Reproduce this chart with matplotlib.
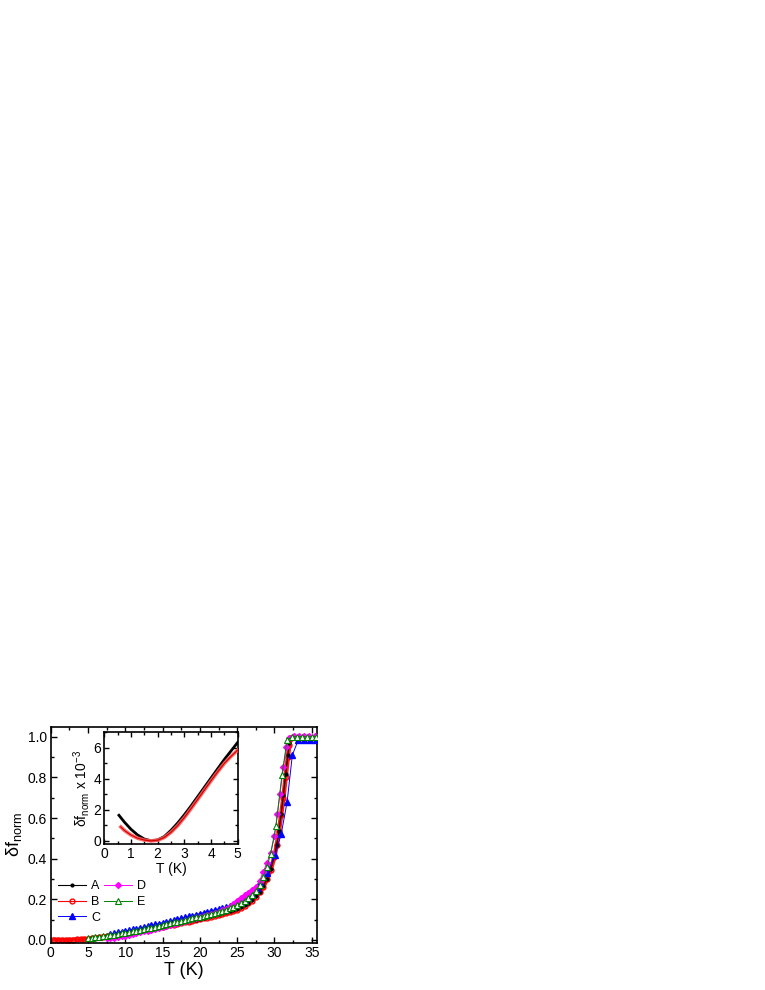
import matplotlib
matplotlib.use('Agg')
import matplotlib.pyplot as plt
from matplotlib.ticker import MultipleLocator, FormatStrFormatter

plt.rcParams['font.family'] = ['Liberation Sans', 'DejaVu Sans']
plt.rcParams['mathtext.fontset'] = 'custom'
plt.rcParams['mathtext.rm'] = 'Liberation Sans'
plt.rcParams['mathtext.it'] = 'Liberation Sans:italic'
plt.rcParams['mathtext.default'] = 'regular'

# ---------------- main panel data ----------------
T_A = [5, 5.5, 6, 6.5, 7, 7.5, 8, 8.5, 9, 9.5, 10, 10.5, 11, 11.5, 12, 12.5, 13, 13.5,
       14, 14.5, 15, 15.5, 16, 16.5, 17, 17.5, 18, 18.5, 19, 19.5, 20, 20.5, 21, 21.5,
       22, 22.5, 23, 23.5, 24, 24.5, 25, 25.5, 26, 26.5, 27, 27.5, 28, 28.5, 29, 29.5,
       30, 30.3, 30.6, 30.9, 31.2, 31.5, 31.8, 32.0, 32.2, 32.5]
y_A = [0.0063, 0.0088, 0.0113, 0.0139, 0.0166, 0.0193, 0.0221, 0.0249, 0.0278, 0.0307,
       0.0337, 0.0368, 0.0399, 0.0431, 0.0463, 0.0495, 0.0528, 0.0561, 0.0594, 0.0628,
       0.0662, 0.0698, 0.0734, 0.0771, 0.0808, 0.0846, 0.0884, 0.0922, 0.0961, 0.1001,
       0.1041, 0.1082, 0.1124, 0.1167, 0.1211, 0.1256, 0.1303, 0.1352, 0.1404, 0.1460,
       0.1522, 0.1600, 0.1700, 0.1820, 0.1960, 0.2140, 0.2360, 0.2640, 0.3000, 0.3480,
       0.4150, 0.4650, 0.5350, 0.6200, 0.7150, 0.8150, 0.9100, 0.9680, 0.9960, 1.0000]

T_B = [0.5, 1, 1.5, 2, 2.5, 3, 3.5, 4, 4.5, 5, 5.5, 6, 6.5, 7, 7.5, 8, 8.5, 9, 9.5,
       10, 10.5, 11, 11.5, 12, 12.5, 13, 13.5, 14, 14.5, 15, 15.5, 16, 16.5, 17, 17.5,
       18, 18.5, 19, 19.5, 20, 20.5, 21, 21.5, 22, 22.5, 23, 23.5, 24, 24.5, 25, 25.5,
       26, 26.5, 27, 27.5, 28, 28.5, 29, 29.5, 30, 30.3, 30.6, 30.9, 31.2, 31.5, 31.8,
       32.0, 32.2, 32.5]
y_B = [0.0016, 0.0007, 0.0002, 0.0000, 0.0004, 0.0014, 0.0026, 0.0038, 0.0049, 0.0058,
       0.0085, 0.0110, 0.0136, 0.0162, 0.0189, 0.0216, 0.0243, 0.0271, 0.0300, 0.0330,
       0.0361, 0.0392, 0.0423, 0.0455, 0.0487, 0.0519, 0.0551, 0.0584, 0.0617, 0.0650,
       0.0686, 0.0722, 0.0758, 0.0795, 0.0832, 0.0869, 0.0906, 0.0944, 0.0983, 0.1022,
       0.1062, 0.1103, 0.1145, 0.1188, 0.1232, 0.1278, 0.1326, 0.1376, 0.1430, 0.1490,
       0.1580, 0.1680, 0.1800, 0.1940, 0.2120, 0.2340, 0.2620, 0.2980, 0.3450, 0.4100,
       0.4650, 0.5350, 0.6150, 0.7000, 0.8000, 0.9000, 0.9600, 0.9950, 1.0000]

T_C = [8, 8.5, 9, 9.5, 10, 10.5, 11, 11.5, 12, 12.5, 13, 13.5,
       14, 14.5, 15, 15.5, 16, 16.5, 17, 17.5, 18, 18.5, 19, 19.5, 20, 20.5, 21, 21.5,
       22, 22.5, 23, 23.5, 24, 24.5, 25, 25.5, 26, 26.5, 27, 27.6, 28.1, 29.0, 30.1,
       30.9, 31.7, 32.4, 33.2, 34.0, 34.8, 35.6]
y_C = [0.0300, 0.0335, 0.0370, 0.0405,
       0.0440, 0.0480, 0.0520, 0.0560, 0.0600, 0.0640, 0.0685, 0.0725, 0.0765, 0.0808,
       0.0850, 0.0893, 0.0936, 0.0980, 0.1024, 0.1068, 0.1112, 0.1156, 0.1200, 0.1250,
       0.1300, 0.1345, 0.1390, 0.1435, 0.1480, 0.1525, 0.1570, 0.1620, 0.1675, 0.1740,
       0.1810, 0.1890, 0.1980, 0.2100, 0.2280, 0.2550, 0.2850, 0.3300, 0.4200, 0.5200,
       0.6800, 0.9100, 0.9850, 0.9850, 0.9850, 0.9850]

T_D = [7.5, 8, 8.5, 9, 9.5, 10, 10.5, 11, 11.5, 12, 12.5, 13, 13.5, 14, 14.5, 15, 15.5,
       16, 16.5, 17, 17.5, 18, 18.5, 19, 19.5, 20, 20.5, 21, 21.5, 22, 22.5, 23, 23.5,
       24, 24.5, 25, 25.5, 26, 26.5, 27, 27.5, 28, 28.5, 29, 29.5, 30.0, 30.4, 30.75,
       31.2, 31.6, 32.0, 32.6, 33.3, 34.0, 34.7, 35.4]
y_D = [0.0080, 0.0095, 0.0110, 0.0135, 0.0170, 0.0210, 0.0250, 0.0290, 0.0330, 0.0370,
       0.0415, 0.0460, 0.0505, 0.0550, 0.0600, 0.0650, 0.0695, 0.0740, 0.0785, 0.0830,
       0.0875, 0.0920, 0.0970, 0.1020, 0.1070, 0.1120, 0.1170, 0.1220, 0.1275, 0.1330,
       0.1390, 0.1460, 0.1540, 0.1630, 0.1750, 0.1910, 0.2060, 0.2200, 0.2330, 0.2460,
       0.2620, 0.2900, 0.3350, 0.3800, 0.4300, 0.5100, 0.6200, 0.7200, 0.8500, 0.9500,
       0.9950, 1.0030, 1.0050, 1.0050, 1.0050, 1.0050]

T_E = [5, 5.5, 6, 6.5, 7, 7.5, 8, 8.5, 9, 9.5, 10, 10.5, 11, 11.5, 12, 12.5, 13, 13.5,
       14, 14.5, 15, 15.5, 16, 16.5, 17, 17.5, 18, 18.5, 19, 19.5, 20, 20.5, 21, 21.5,
       22, 22.5, 23, 23.5, 24, 24.5, 25, 25.5, 26, 26.5, 27, 27.5, 28, 28.5, 29, 29.5,
       30.2, 31.0, 31.7, 32.4, 33.0, 33.7, 34.4, 35.0, 35.6]
y_E = [0.0080, 0.0105, 0.0130, 0.0155, 0.0180, 0.0207, 0.0235, 0.0262, 0.0290, 0.0320,
       0.0350, 0.0385, 0.0420, 0.0455, 0.0490, 0.0527, 0.0565, 0.0607, 0.0650, 0.0695,
       0.0740, 0.0780, 0.0820, 0.0860, 0.0900, 0.0940, 0.0980, 0.1022, 0.1065, 0.1107,
       0.1150, 0.1192, 0.1235, 0.1277, 0.1320, 0.1370, 0.1425, 0.1490, 0.1560, 0.1635,
       0.1720, 0.1815, 0.1920, 0.2060, 0.2220, 0.2420, 0.2700, 0.3100, 0.3600, 0.4250,
       0.5600, 0.8100, 0.9850, 1.0000, 1.0000, 1.0000, 1.0000, 1.0000, 1.0000]

# ---------------- inset data (x 10^-3) ----------------
T_A_in = [0.55, 0.75, 1.0, 1.25, 1.5, 1.75, 2.0, 2.25, 2.5, 2.75, 3.0, 3.25, 3.5, 3.75,
          4.0, 4.25, 4.5, 4.75, 5.0]
y_A_in = [1.65, 1.22, 0.75, 0.38, 0.12, 0.01, 0.06, 0.28, 0.68, 1.15, 1.68, 2.25, 2.85,
          3.45, 4.05, 4.65, 5.25, 5.80, 6.35]
T_B_in = [0.62, 0.75, 1.0, 1.25, 1.5, 1.75, 2.0, 2.25, 2.5, 2.75, 3.0, 3.25, 3.5, 3.75,
          4.0, 4.25, 4.5, 4.75, 5.0]
y_B_in = [0.90, 0.68, 0.38, 0.17, 0.05, 0.00, 0.04, 0.22, 0.55, 0.98, 1.50, 2.07, 2.67,
          3.27, 3.87, 4.45, 5.00, 5.45, 5.85]

labels = ['A', 'B', 'C', 'D', 'E']

fig = plt.figure(figsize=(7.65, 9.9), dpi=100)
ax = fig.add_axes([0.0663, 0.0475, 0.3485, 0.2185])

# dense band of series B
ax.plot(T_B, y_B, '-', color='#ff1a1a', lw=3.2, zorder=2)
hB, = ax.plot(T_B, y_B, '-', color='#ff0000', lw=0.8, marker='o', ms=3.5,
              mfc='none', mec='#ff0000', mew=1.0, zorder=2.1, label=labels[1])
hA, = ax.plot(T_A, y_A, '-', color='black', lw=0.8, marker='o', ms=2.0,
              mfc='black', mec='black', zorder=3, label=labels[0])
hC, = ax.plot(T_C, y_C, '-', color='#0000ff', lw=0.7, marker='^', ms=4,
              mfc='#0000ff', mec='#0000ff', zorder=4, label=labels[2])
hD, = ax.plot(T_D, y_D, '-', color='#ff00ff', lw=0.7, marker='D', ms=3,
              mfc='#ff00ff', mec='#ff00ff', zorder=5, label=labels[3])
hE, = ax.plot(T_E, y_E, '-', color='#008000', lw=0.7, marker='^', ms=4,
              mfc='white', mec='#008000', mew=0.8, zorder=6, label=labels[4])

ax.set_xlim(0, 35.75)
ax.set_ylim(-0.015, 1.05)
ax.xaxis.set_major_locator(MultipleLocator(5))
ax.xaxis.set_minor_locator(MultipleLocator(2.5))
ax.yaxis.set_major_locator(MultipleLocator(0.2))
ax.yaxis.set_minor_locator(MultipleLocator(0.1))
ax.yaxis.set_major_formatter(FormatStrFormatter('%.1f'))
ax.tick_params(which='both', direction='in', top=True, right=True, width=1.0)
ax.tick_params(which='major', length=4, labelsize=10, pad=2.5)
ax.tick_params(which='minor', length=2.2)
for s in ax.spines.values():
    s.set_linewidth(1.2)
ax.set_xlabel('T (K)', fontsize=13, labelpad=1)
ax.set_ylabel('δf$_{norm}$', fontsize=13, labelpad=3)

leg = ax.legend(handles=[hA, hB, hC, hD, hE], ncol=2, loc='upper left',
                bbox_to_anchor=(0.0285, 0.29), frameon=False, fontsize=9,
                borderpad=0, borderaxespad=0, handlelength=2.25, handletextpad=0.4,
                columnspacing=0.3, labelspacing=0.3)

# ---------------- inset ----------------
ax2 = fig.add_axes([0.1363, 0.1475, 0.1744, 0.1128])
ax2.plot(T_A_in, y_A_in, '-', color='black', lw=2.0, zorder=2)
ax2.plot(T_B_in, y_B_in, '-', color='#ff5a5a', lw=2.6, alpha=0.9, zorder=3)
ax2.plot(T_B_in, y_B_in, '-', color='#d00000', lw=0.8, zorder=4)
ax2.set_xlim(0, 5)
ax2.set_ylim(-0.2, 7.0)
ax2.xaxis.set_major_locator(MultipleLocator(1))
ax2.xaxis.set_minor_locator(MultipleLocator(0.5))
ax2.yaxis.set_major_locator(MultipleLocator(2))
ax2.yaxis.set_minor_locator(MultipleLocator(1))
ax2.tick_params(which='both', direction='in', top=True, right=True, width=1.0)
ax2.tick_params(which='major', length=3.5, labelsize=10, pad=2)
ax2.tick_params(which='minor', length=2)
for s in ax2.spines.values():
    s.set_linewidth(1.2)
ax2.set_xlabel('T (K)', fontsize=10, labelpad=1)
ax2.set_ylabel('δf$_{norm}$ x 10$^{-3}$', fontsize=10, labelpad=1)

fig.savefig('out.png', dpi=100)
